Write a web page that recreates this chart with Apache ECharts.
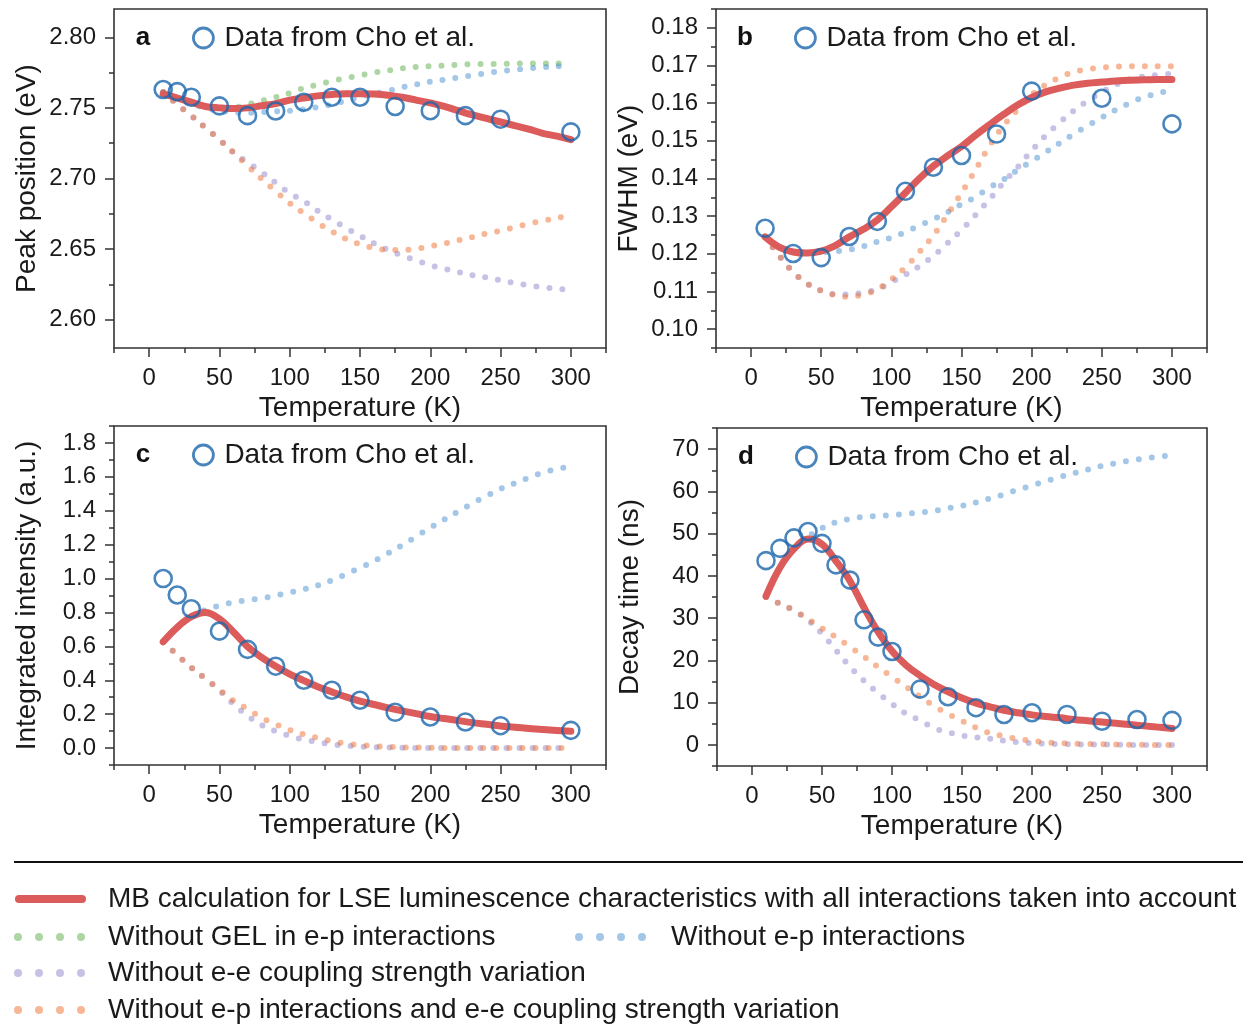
<!DOCTYPE html>
<html>
<head>
<meta charset="utf-8">
<script src="https://cdn.jsdelivr.net/npm/echarts@6/dist/echarts.min.js"></script>
<style>
  html, body { margin: 0; padding: 0; background: #fff; }
  #chart { width: 1253px; height: 1026px; }
</style>
</head>
<body>
<div id="chart"></div>
<script>
// ---- data ----
var tempModel = [10, 20, 30, 40, 50, 60, 70, 80, 90, 100, 110, 120, 130, 140, 150,
  160, 170, 180, 190, 200, 210, 220, 230, 240, 250, 260, 270, 280, 290, 300];

// a: peak position (eV)
var peakExpT = [10, 20, 30, 50, 70, 90, 110, 130, 150, 175, 200, 225, 250, 300];
var peakExp = [2.763, 2.7615, 2.7575, 2.7514, 2.7445, 2.7478, 2.754, 2.7575, 2.7575, 2.751, 2.748, 2.7445, 2.742, 2.733];
var peakMB = [2.760, 2.757, 2.754, 2.751, 2.750, 2.7495, 2.750, 2.7515, 2.753, 2.7555, 2.757, 2.7585, 2.7595, 2.760, 2.760,
  2.7598, 2.759, 2.7575, 2.7555, 2.7535, 2.751, 2.748, 2.745, 2.7425, 2.740, 2.7375, 2.735, 2.732, 2.730, 2.7275];
var peakNoGEL = [2.761, 2.757, 2.754, 2.751, 2.7495, 2.750, 2.7525, 2.755, 2.7575, 2.7605, 2.764, 2.7665, 2.769, 2.771, 2.773,
  2.775, 2.7765, 2.778, 2.779, 2.7795, 2.780, 2.7805, 2.781, 2.781, 2.7812, 2.7813, 2.7814, 2.7815, 2.7815, 2.7815];
var peakNoEP = [2.761, 2.757, 2.753, 2.750, 2.748, 2.747, 2.7465, 2.747, 2.7475, 2.748, 2.749, 2.7505, 2.7525, 2.755, 2.7575,
  2.760, 2.762, 2.7645, 2.7665, 2.7685, 2.770, 2.7715, 2.773, 2.7745, 2.776, 2.777, 2.778, 2.7788, 2.7793, 2.780];
var peakNoEE = [2.761, 2.7525, 2.7445, 2.736, 2.7275, 2.7185, 2.7115, 2.7045, 2.697, 2.6895, 2.684, 2.677, 2.671, 2.665, 2.6595,
  2.654, 2.6495, 2.6453, 2.642, 2.6385, 2.636, 2.6338, 2.6315, 2.630, 2.628, 2.626, 2.6243, 2.623, 2.622, 2.621];
var peakNoBoth = [2.761, 2.7525, 2.7445, 2.736, 2.7275, 2.7185, 2.709, 2.6997, 2.691, 2.6825, 2.6755, 2.6686, 2.6625, 2.6573, 2.6535,
  2.6508, 2.6494, 2.6493, 2.6503, 2.652, 2.654, 2.6562, 2.6585, 2.661, 2.663, 2.6655, 2.668, 2.670, 2.672, 2.674];

// b: FWHM (eV)
var fwhmExpT = [10, 30, 50, 70, 90, 110, 130, 150, 175, 200, 250, 300];
var fwhmExp = [0.1268, 0.1201, 0.119, 0.1246, 0.1286, 0.1366, 0.143, 0.1461, 0.1518, 0.1632, 0.1613, 0.1545];
var fwhmMB = [0.1245, 0.1218, 0.1205, 0.1202, 0.1207, 0.1222, 0.1245, 0.1265, 0.129, 0.1325, 0.1362, 0.140, 0.1433, 0.146, 0.1485,
  0.1515, 0.1543, 0.157, 0.1595, 0.1615, 0.163, 0.164, 0.1648, 0.1653, 0.1656, 0.1659, 0.1661, 0.1662, 0.1663, 0.1663];
var fwhmNoEP = [0.1245, 0.1218, 0.1205, 0.1202, 0.1204, 0.1207, 0.1211, 0.122, 0.1232, 0.1243, 0.1258, 0.1275, 0.1292, 0.131, 0.1332,
  0.1351, 0.1376, 0.1397, 0.1423, 0.1446, 0.147, 0.1494, 0.1518, 0.154, 0.1562, 0.1582, 0.160, 0.1616, 0.1626, 0.1635];
var fwhmNoEE = [0.1245, 0.1195, 0.1152, 0.1121, 0.1102, 0.1093, 0.1092, 0.1097, 0.1106, 0.1125, 0.1145, 0.1167, 0.1195, 0.1228, 0.1263,
  0.1303, 0.1345, 0.1389, 0.143, 0.1474, 0.1514, 0.1549, 0.158, 0.1606, 0.1629, 0.1649, 0.1663, 0.1671, 0.1675, 0.1678];
var fwhmNoBoth = [0.1245, 0.1195, 0.1152, 0.1121, 0.1102, 0.109, 0.1086, 0.1092, 0.1106, 0.1132, 0.1164, 0.1205, 0.1249, 0.1304, 0.1362,
  0.1423, 0.1487, 0.154, 0.1583, 0.1622, 0.1649, 0.1668, 0.1683, 0.169, 0.1694, 0.1697, 0.1698, 0.1698, 0.1698, 0.1698];

// c: integrated intensity (a.u.)
var intExpT = [10, 20, 30, 50, 70, 90, 110, 130, 150, 175, 200, 225, 250, 300];
var intExp = [1.0, 0.903, 0.822, 0.69, 0.582, 0.483, 0.40, 0.341, 0.282, 0.211, 0.183, 0.154, 0.132, 0.104];
var intMB = [0.627, 0.712, 0.775, 0.80, 0.762, 0.685, 0.598, 0.535, 0.482, 0.436, 0.398, 0.362, 0.331, 0.302, 0.277,
  0.257, 0.237, 0.219, 0.203, 0.186, 0.174, 0.162, 0.150, 0.140, 0.130, 0.123, 0.116, 0.110, 0.104, 0.099];
var intNoEP = [0.627, 0.712, 0.775, 0.815, 0.84, 0.86, 0.872, 0.883, 0.9, 0.918, 0.936, 0.96, 0.99, 1.025, 1.064,
  1.103, 1.15, 1.196, 1.248, 1.3, 1.348, 1.396, 1.444, 1.487, 1.53, 1.562, 1.595, 1.624, 1.646, 1.66];
var intNoEE = [0.627, 0.55, 0.475, 0.41, 0.34, 0.26, 0.19, 0.135, 0.10, 0.072, 0.05, 0.035, 0.022, 0.014, 0.009,
  0.005, 0.003, 0.002, 0.001, 0.001, 0, 0, 0, 0, 0, 0, 0, 0, 0, 0];
var intNoBoth = [0.627, 0.55, 0.475, 0.41, 0.345, 0.28, 0.231, 0.178, 0.14, 0.107, 0.081, 0.06, 0.041, 0.026, 0.019,
  0.012, 0.007, 0.004, 0.003, 0.002, 0.001, 0.001, 0, 0, 0, 0, 0, 0, 0, 0];

// d: decay time (ns)
var decayExpT = [10, 20, 30, 40, 50, 60, 70, 80, 90, 100, 120, 140, 160, 180, 200, 225, 250, 275, 300];
var decayExp = [43.6, 46.5, 49.0, 50.5, 47.7, 42.6, 39.0, 29.6, 25.5, 22.1, 13.2, 11.4, 8.8, 7.2, 7.6, 7.2, 5.6, 6.0, 5.8];
var decayMB = [35.2, 42.0, 46.4, 48.7, 47.5, 43.5, 38.8, 32.5, 26.8, 22.2, 18.9, 16.4, 14.3, 12.6, 11.1,
  9.9, 9.0, 8.2, 7.6, 7.1, 6.7, 6.4, 6.0, 5.7, 5.4, 5.1, 4.8, 4.5, 4.2, 3.9];
var decayNoEP = [35.2, 42.0, 46.4, 49.2, 51.3, 52.7, 53.5, 54.0, 54.2, 54.4, 54.7, 55.0, 55.4, 56.0, 56.6,
  57.4, 58.3, 59.3, 60.4, 61.4, 62.4, 63.4, 64.3, 65.2, 66.0, 66.7, 67.3, 67.8, 68.2, 68.5];
var decayNoEE = [35.0, 33.4, 31.8, 29.5, 26.3, 22.4, 18.5, 15.2, 12.3, 9.7, 7.4, 5.8, 4.0, 3.0, 2.2,
  1.8, 1.45, 1.0, 0.6, 0.4, 0.3, 0.2, 0.15, 0.1, 0.1, 0.05, 0, 0, 0, 0];
var decayNoBoth = [35.0, 33.4, 31.8, 29.8, 27.6, 25.5, 23.2, 20.9, 18.4, 16.1, 13.8, 11.4, 9.2, 7.3, 5.7,
  4.1, 2.8, 2.1, 1.4, 1.0, 0.6, 0.4, 0.3, 0.2, 0.15, 0.1, 0.05, 0, 0, 0];

// tick labels
var xLabels = [0, 50, 100, 150, 200, 250, 300];
var xMinor = [-25, 0, 25, 50, 75, 100, 125, 150, 175, 200, 225, 250, 275, 300, 325];
var peakLabels = [2.60, 2.65, 2.70, 2.75, 2.80];
var peakMinor = [2.600, 2.625, 2.650, 2.675, 2.700, 2.725, 2.750, 2.775, 2.800];
var fwhmLabels = [0.10, 0.11, 0.12, 0.13, 0.14, 0.15, 0.16, 0.17, 0.18];
var fwhmMinor = [0.095, 0.100, 0.105, 0.110, 0.115, 0.120, 0.125, 0.130, 0.135, 0.140, 0.145,
  0.150, 0.155, 0.160, 0.165, 0.170, 0.175, 0.180, 0.185];
var intLabels = [0.0, 0.2, 0.4, 0.6, 0.8, 1.0, 1.2, 1.4, 1.6, 1.8];
var intMinor = [-0.1, 0.0, 0.1, 0.2, 0.3, 0.4, 0.5, 0.6, 0.7, 0.8, 0.9, 1.0, 1.1, 1.2, 1.3, 1.4, 1.5, 1.6, 1.7, 1.8, 1.9];
var decayLabels = [0, 10, 20, 30, 40, 50, 60, 70];
var decayMinor = [-5, 0, 5, 10, 15, 20, 25, 30, 35, 40, 45, 50, 55, 60, 65, 70, 75];

var NAME_MB = "MB calculation for LSE luminescence characteristics with all interactions taken into account";
var NAME_GEL = "Without GEL in e-p interactions";
var NAME_EP = "Without e-p interactions";
var NAME_EE = "Without e-e coupling strength variation";
var NAME_BOTH = "Without e-p interactions and e-e coupling strength variation";
var NAME_EXP = "Data from Cho et al.";

// ---- style ----
var FONT = "'Liberation Sans', Arial, Helvetica, sans-serif";
var INK = "#1a1a1a";
var AXIS = "#333";
var RED = "#dc5b5b";
var CIRCLE = "#1b67ac";
var DOT = { gel: "#5cae4a", ep: "#4a90d0", ee: "#8f86cc", both: "#f07030" };

function zip(xs, ys) {
  return xs.map(function (x, i) { return [x, ys[i]]; });
}

var panels = [
  { letter: "a", grid: { left: 114, top: 9, width: 492, height: 339 },
    yMin: 2.58, yMax: 2.82, yLabels: peakLabels, yMinor: peakMinor, dec: 2, yName: "Peak position (eV)",
    expT: peakExpT, exp: peakExp, mb: peakMB, gel: peakNoGEL, ep: peakNoEP, ee: peakNoEE, both: peakNoBoth },
  { letter: "b", grid: { left: 716, top: 9, width: 491, height: 339 },
    yMin: 0.095, yMax: 0.185, yLabels: fwhmLabels, yMinor: fwhmMinor, dec: 2, yName: "FWHM (eV)",
    expT: fwhmExpT, exp: fwhmExp, mb: fwhmMB, ep: fwhmNoEP, ee: fwhmNoEE, both: fwhmNoBoth },
  { letter: "c", grid: { left: 114, top: 426, width: 492, height: 339 },
    yMin: -0.1, yMax: 1.9, yLabels: intLabels, yMinor: intMinor, dec: 1, yName: "Integrated intensity (a.u.)",
    expT: intExpT, exp: intExp, mb: intMB, ep: intNoEP, ee: intNoEE, both: intNoBoth },
  { letter: "d", grid: { left: 717, top: 428, width: 490, height: 338 },
    yMin: -5, yMax: 75, yLabels: decayLabels, yMinor: decayMinor, dec: 0, yName: "Decay time (ns)",
    expT: decayExpT, exp: decayExp, mb: decayMB, ep: decayNoEP, ee: decayNoEE, both: decayNoBoth }
];

var grids = [], xAxes = [], yAxes = [], series = [], legends = [], graphics = [];
var tickLine = { color: AXIS, width: 1.5 };

panels.forEach(function (p, i) {
  var g = p.grid;
  grids.push({ left: g.left, top: g.top, width: g.width, height: g.height, show: true,
    borderColor: AXIS, borderWidth: 1.6, backgroundColor: "transparent", containLabel: false, outerBoundsMode: "none" });

  // main x axis: minor ticks + labels + name
  xAxes.push({
    type: "value", gridIndex: i, min: -25, max: 325, position: "bottom",
    axisLine: { show: false, onZero: false }, splitLine: { show: false },
    axisTick: { show: true, customValues: xMinor, length: 5, lineStyle: tickLine },
    axisLabel: { customValues: xLabels, margin: 18, fontSize: 24, color: INK, fontFamily: FONT },
    name: "Temperature (K)", nameLocation: "middle", nameGap: 46,
    nameTextStyle: { fontSize: 28, color: INK, fontFamily: FONT }
  });
  // overlay x axis: longer major ticks
  xAxes.push({
    type: "value", gridIndex: i, min: -25, max: 325, position: "bottom", offset: 0,
    axisLine: { show: false, onZero: false }, splitLine: { show: false }, axisLabel: { show: false },
    axisTick: { show: true, customValues: xLabels, length: 9, lineStyle: tickLine }
  });

  yAxes.push({
    type: "value", gridIndex: i, min: p.yMin, max: p.yMax, position: "left",
    axisLine: { show: false, onZero: false }, splitLine: { show: false },
    axisTick: { show: true, customValues: p.yMinor, length: 5, lineStyle: tickLine },
    axisLabel: { customValues: p.yLabels, margin: 18, fontSize: 24, color: INK, fontFamily: FONT,
      formatter: (function (d) { return function (v) { return Number(v).toFixed(d); }; })(p.dec) },
    name: p.yName, nameLocation: "middle", nameRotate: 90, nameGap: 73,
    nameTextStyle: { fontSize: 28, color: INK, fontFamily: FONT }
  });
  yAxes.push({
    type: "value", gridIndex: i, min: p.yMin, max: p.yMax, position: "left", offset: 0,
    axisLine: { show: false, onZero: false }, splitLine: { show: false }, axisLabel: { show: false },
    axisTick: { show: true, customValues: p.yLabels, length: 9, lineStyle: tickLine }
  });

  var ax = { xAxisIndex: 2 * i, yAxisIndex: 2 * i };
  function dotted(name, data, color) {
    series.push(Object.assign({
      type: "line", name: name, data: zip(tempModel, data), symbol: "none",
      smooth: 0.4, silent: true, z: 1,
      lineStyle: { color: color, width: 6, type: [0, 13], cap: "round", opacity: 0.5 },
      itemStyle: { color: color }, emphasis: { disabled: true }
    }, ax));
  }
  if (p.gel) dotted(NAME_GEL, p.gel, DOT.gel);
  dotted(NAME_EP, p.ep, DOT.ep);
  dotted(NAME_EE, p.ee, DOT.ee);
  dotted(NAME_BOTH, p.both, DOT.both);

  series.push(Object.assign({
    type: "line", name: NAME_MB, data: zip(tempModel, p.mb), symbol: "none",
    smooth: 0.4, silent: true, z: 2,
    lineStyle: { color: RED, width: 7, cap: "round", join: "round" }, itemStyle: { color: RED },
    emphasis: { disabled: true }
  }, ax));

  series.push(Object.assign({
    type: "scatter", name: NAME_EXP, data: zip(p.expT, p.exp), symbol: "circle", symbolSize: 17,
    silent: true, z: 3,
    itemStyle: { color: "rgba(0,0,0,0)", borderColor: CIRCLE, borderWidth: 2.6 },
    emphasis: { disabled: true }
  }, ax));

  // in-panel legend "Data from Cho et al."
  legends.push({
    left: g.left + 78, top: g.top + 15, padding: 0, selectedMode: false,
    itemWidth: 20, itemHeight: 20,
    data: [{ name: NAME_EXP, icon: "circle",
      itemStyle: { color: "rgba(0,0,0,0)", borderColor: CIRCLE, borderWidth: 2.8 } }],
    textStyle: { fontSize: 28, color: INK, fontFamily: FONT, padding: [0, 0, 0, 6] }
  });

  graphics.push({
    type: "text", x: g.left + 29, y: g.top + 29,
    style: { text: p.letter, align: "center", verticalAlign: "middle",
      font: "bold 26px " + FONT, fill: "#111" }
  });
});

// bottom legend rows
function legendRow(name, left, top, kind, color, pad) {
  var item = { name: name, itemStyle: { opacity: 0 } };
  if (kind === "solid") {
    item.lineStyle = { color: color, width: 8, type: "solid", cap: "round", opacity: 1 };
  } else {
    item.lineStyle = { color: color, width: 8, type: [0, 21], cap: "round", opacity: 0.5 };
  }
  legends.push({
    left: left, top: top, padding: 0, selectedMode: false,
    itemWidth: kind === "solid" ? 63 : 66, itemHeight: 14,
    data: [item],
    textStyle: { fontSize: 28, color: INK, fontFamily: FONT, padding: [0, 0, 0, pad] }
  });
}
legendRow(NAME_MB, 15, 885, "solid", RED, 21);
legendRow(NAME_GEL, 14, 923, "dot", DOT.gel, 19);
legendRow(NAME_EP, 575, 923, "dot", DOT.ep, 21);
legendRow(NAME_EE, 14, 959, "dot", DOT.ee, 19);
legendRow(NAME_BOTH, 14, 996, "dot", DOT.both, 19);

graphics.push({
  type: "line", shape: { x1: 14, y1: 862, x2: 1243, y2: 862 },
  style: { stroke: "#111", lineWidth: 2 }
});

var chart = echarts.init(document.getElementById("chart"), null, { renderer: "canvas" });
chart.setOption({
  animation: false,
  backgroundColor: "#fff",
  textStyle: { fontFamily: FONT },
  grid: grids,
  xAxis: xAxes,
  yAxis: yAxes,
  legend: legends,
  graphic: graphics,
  series: series
});
</script>
</body>
</html>
